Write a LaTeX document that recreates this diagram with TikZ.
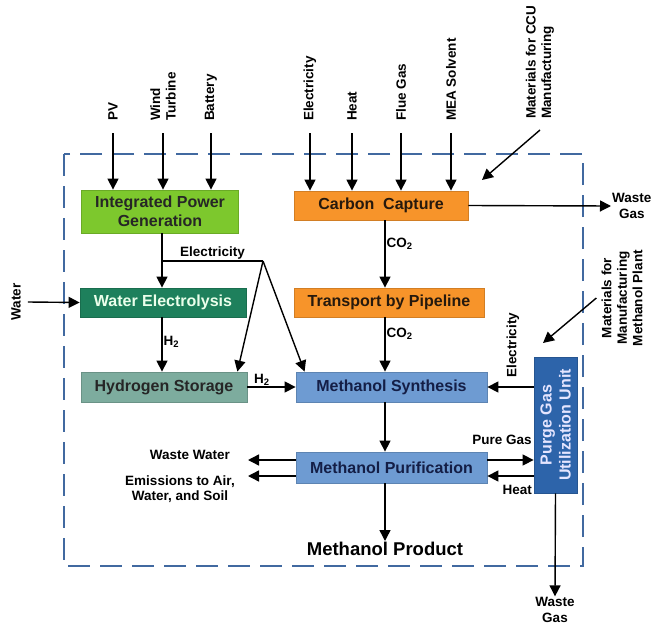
\documentclass[tikz,border=0pt]{standalone}
\usepackage{fontspec}
\setmainfont{Liberation Sans}
\usetikzlibrary{arrows.meta}
\definecolor{ipggreen}{RGB}{125,200,45}
\definecolor{ccorange}{RGB}{247,148,42}
\definecolor{wegreen}{RGB}{30,128,92}
\definecolor{hsgray}{RGB}{125,172,158}
\definecolor{msblue}{RGB}{110,155,210}
\definecolor{pgblue}{RGB}{45,100,170}
\definecolor{sysblue}{RGB}{65,105,160}
\definecolor{navytext}{RGB}{20,30,70}
\newcommand\boxfont{\bfseries\fontsize{16}{19}\selectfont}
\newcommand\labfont{\bfseries\fontsize{13.5}{15.5}\selectfont}
\begin{document}
\begin{tikzpicture}[x=1pt,y=-1pt,
  box/.style={rectangle,draw=#1!85!black,fill=#1,line width=.8pt,inner sep=0pt,align=center,font=\boxfont},
  lab/.style={inner sep=1pt,align=center,font=\labfont},
  conn/.style={line width=1.4pt},
  arr/.style={line width=1.4pt,-{Triangle[length=11pt,width=11pt]}},
  sysline/.style={draw=sysblue,line width=2.2pt,dash pattern=on 22pt off 10pt}]
\useasboundingbox (0,0) rectangle (654,624);
\draw[sysline] (64,154) rectangle (583,566);

\node[box=ipggreen,minimum width=157pt,minimum height=43pt,text=black!85] (ipg) at (160,211.5) {Integrated Power\\Generation};
\node[box=ccorange,minimum width=174pt,minimum height=29pt,text=black!80!brown] (cc) at (381,205.5) {Carbon~~Capture};
\node[box=wegreen,minimum width=166pt,minimum height=29pt,text=white!92!green] (we) at (163,302.5) {Water Electrolysis};
\node[box=ccorange,minimum width=190pt,minimum height=29pt,text=black!80!brown] (tp) at (389,302.5) {Transport by Pipeline};
\node[box=hsgray,minimum width=166pt,minimum height=30pt,text=black!85] (hs) at (164,387) {Hydrogen Storage};
\node[box=msblue,minimum width=191pt,minimum height=30pt,text=navytext] (ms) at (391.5,387) {Methanol Synthesis};
\node[box=msblue,minimum width=191pt,minimum height=31pt,text=navytext] (mp) at (391.5,467.5) {Methanol Purification};
\node[box=pgblue,rotate=90,minimum width=136pt,minimum height=43pt,text=white!90!blue] (pg) at (555.5,425) {Purge Gas\\Utilization Unit};
\node[inner sep=1pt,font=\bfseries\fontsize{18.5}{22}\selectfont] (prod) at (385,549) {Methanol Product};

\node[lab,rotate=90,anchor=west] (pv) at (113,122) {PV};
\node[lab,rotate=90,anchor=west,align=left] (wind) at (163,122) {Wind\\Turbine};
\node[lab,rotate=90,anchor=west] (bat) at (211,122) {Battery};
\node[lab,rotate=90,anchor=west] (el) at (310,122) {Electricity};
\node[lab,rotate=90,anchor=west] (heat) at (352,122) {Heat};
\node[lab,rotate=90,anchor=west] (flue) at (401,122) {Flue Gas};
\node[lab,rotate=90,anchor=west] (mea) at (451,122) {MEA Solvent};
\node[lab,rotate=90,anchor=west,align=left] (ccu) at (540,120) {Materials for CCU\\Manufacturing};
\node[lab,rotate=90] (mpl) at (622,298) {Materials for\\Manufacturing\\Methanol Plant};
\node[lab,rotate=90] (water) at (16,302) {Water};
\node[lab,anchor=west] (wgcc) at (611,206) {Waste\\Gas};
\node[lab,rotate=90] (elpg) at (513,345) {Electricity};
\node[lab] (pure) at (502,440) {Pure Gas};
\node[lab,anchor=east] (heatpg) at (533,490) {Heat};
\node[lab,anchor=east] (wwlab) at (231,455) {Waste Water};
\node[lab] (emlab) at (180,489) {Emissions to Air,\\Water, and Soil};
\node[lab] (wgpg) at (555,610) {Waste\\Gas};

\coordinate (ex) at (162,0);
\coordinate (cx) at (385,0);
\coordinate (ej) at (263,261);
\coordinate (ccuin) at (482,180);
\coordinate (pgin) at (543,343);
\coordinate (ww) at (248,460);
\coordinate (em) at (248,476);

\draw[arr] ([yshift=-11pt]pv.west) -- (pv.west |- ipg.north);
\draw[arr] ([yshift=-11pt]wind.west) -- (wind.west |- ipg.north);
\draw[arr] ([yshift=-11pt]bat.west) -- (bat.west |- ipg.north);
\draw[arr] ([yshift=-11pt]el.west) -- (el.west |- cc.north);
\draw[arr] ([yshift=-11pt]heat.west) -- (heat.west |- cc.north);
\draw[arr] ([yshift=-11pt]flue.west) -- (flue.west |- cc.north);
\draw[arr] ([yshift=-11pt]mea.west) -- (mea.west |- cc.north);
\draw[arr] ([yshift=-10pt]ccu.west) -- (ccuin);
\draw[arr] (cc.east) -- (wgcc.west);
\draw[arr] ([xshift=6pt]water.south) -- (we.west);

\draw[arr] (ex |- ipg.south) -- (ex |- we.north);
\draw[conn] (ex |- ej) -- (ej) node[midway,above,lab]{Electricity};
\draw[arr] (ej) -- ([xshift=-10pt]hs.north east);
\draw[arr] (ej) -- ([xshift=9pt]ms.north west);
\draw[arr] (ex |- we.south) -- (ex |- hs.north) node[pos=.45,right,lab]{H\textsubscript{2}};
\draw[arr] (hs.east) -- (ms.west) node[pos=.3,above,lab]{H\textsubscript{2}};

\draw[arr] (cx |- cc.south) -- (cx |- tp.north) node[pos=.35,right,lab]{CO\textsubscript{2}};
\draw[arr] (cx |- tp.south) -- (cx |- ms.north) node[pos=.3,right,lab]{CO\textsubscript{2}};
\draw[arr] (cx |- ms.south) -- (cx |- mp.north);
\draw[arr] (cx |- mp.south) -- (prod.north);

\draw[arr] ([xshift=-4pt]mpl.north) -- (pgin);
\draw[arr] (pg.north |- ms.east) -- (ms.east);
\draw[arr] (mp.east |- ww) -- (pg.north |- ww);
\draw[arr] (pg.north |- em) -- (mp.east |- em);
\draw[arr] (mp.west |- ww) -- (ww);
\draw[arr] (mp.west |- em) -- (em);
\draw[arr] (pg.west) -- (wgpg.north);
\end{tikzpicture}
\end{document}
